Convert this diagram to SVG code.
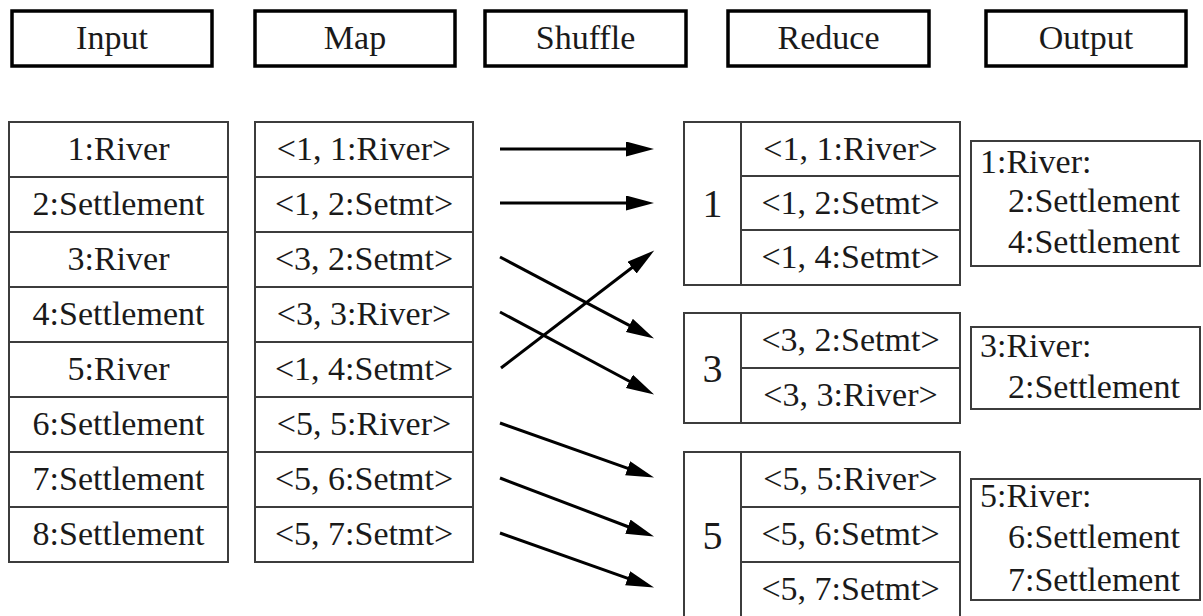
<svg xmlns="http://www.w3.org/2000/svg" width="1203" height="616" viewBox="0 0 1203 616">
  <defs>
    <marker id="head" markerUnits="userSpaceOnUse" markerWidth="30" markerHeight="16" refX="1" refY="7.5" orient="auto">
      <path d="M0,0 L28,7.5 L0,15 z" fill="#000"/>
    </marker>
  </defs>
  <rect width="1203" height="616" fill="#fff"/>

  <!-- stage headers -->
  <g id="headers" fill="#fff" stroke="#000" stroke-width="3.5">
    <rect x="12" y="11" width="200" height="55"/>
    <rect x="255" y="11" width="200" height="55"/>
    <rect x="485" y="11" width="201" height="55"/>
    <rect x="728" y="11" width="201" height="55"/>
    <rect x="986" y="11" width="200" height="55"/>
  </g>
  <g id="hdr-input"><text font-family="Liberation Serif" font-size="34" fill="#1a1a1a" text-anchor="middle" x="112" y="49">Input</text></g>
  <g id="hdr-map"><text font-family="Liberation Serif" font-size="34" fill="#1a1a1a" text-anchor="middle" x="355" y="49">Map</text></g>
  <g id="hdr-shuffle"><text font-family="Liberation Serif" font-size="34" fill="#1a1a1a" text-anchor="middle" x="585.5" y="49">Shuffle</text></g>
  <g id="hdr-reduce"><text font-family="Liberation Serif" font-size="34" fill="#1a1a1a" text-anchor="middle" x="828.5" y="49">Reduce</text></g>
  <g id="hdr-output"><text font-family="Liberation Serif" font-size="34" fill="#1a1a1a" text-anchor="middle" x="1086" y="49">Output</text></g>

  <!-- input records -->
  <g id="input-table">
    <rect fill="#fff" stroke="#3c3c3c" stroke-width="2" x="9" y="122" width="219" height="440"/>
    <path stroke="#3c3c3c" stroke-width="2" d="M9,177H228M9,232H228M9,287H228M9,342H228M9,397H228M9,452H228M9,507H228"/>
    <text font-family="Liberation Serif" font-size="34" fill="#1a1a1a" text-anchor="middle" x="118.5" y="160">1:River</text>
    <text font-family="Liberation Serif" font-size="34" fill="#1a1a1a" text-anchor="middle" x="118.5" y="215">2:Settlement</text>
    <text font-family="Liberation Serif" font-size="34" fill="#1a1a1a" text-anchor="middle" x="118.5" y="270">3:River</text>
    <text font-family="Liberation Serif" font-size="34" fill="#1a1a1a" text-anchor="middle" x="118.5" y="325">4:Settlement</text>
    <text font-family="Liberation Serif" font-size="34" fill="#1a1a1a" text-anchor="middle" x="118.5" y="380">5:River</text>
    <text font-family="Liberation Serif" font-size="34" fill="#1a1a1a" text-anchor="middle" x="118.5" y="435">6:Settlement</text>
    <text font-family="Liberation Serif" font-size="34" fill="#1a1a1a" text-anchor="middle" x="118.5" y="490">7:Settlement</text>
    <text font-family="Liberation Serif" font-size="34" fill="#1a1a1a" text-anchor="middle" x="118.5" y="545">8:Settlement</text>
  </g>

  <!-- map output pairs -->
  <g id="map-table">
    <rect fill="#fff" stroke="#3c3c3c" stroke-width="2" x="255" y="122" width="218" height="440"/>
    <path stroke="#3c3c3c" stroke-width="2" d="M255,177H473M255,232H473M255,287H473M255,342H473M255,397H473M255,452H473M255,507H473"/>
    <text font-family="Liberation Serif" font-size="34" fill="#1a1a1a" text-anchor="middle" x="364" y="160">&lt;1, 1:River&gt;</text>
    <text font-family="Liberation Serif" font-size="34" fill="#1a1a1a" text-anchor="middle" x="364" y="215">&lt;1, 2:Setmt&gt;</text>
    <text font-family="Liberation Serif" font-size="34" fill="#1a1a1a" text-anchor="middle" x="364" y="270">&lt;3, 2:Setmt&gt;</text>
    <text font-family="Liberation Serif" font-size="34" fill="#1a1a1a" text-anchor="middle" x="364" y="325">&lt;3, 3:River&gt;</text>
    <text font-family="Liberation Serif" font-size="34" fill="#1a1a1a" text-anchor="middle" x="364" y="380">&lt;1, 4:Setmt&gt;</text>
    <text font-family="Liberation Serif" font-size="34" fill="#1a1a1a" text-anchor="middle" x="364" y="435">&lt;5, 5:River&gt;</text>
    <text font-family="Liberation Serif" font-size="34" fill="#1a1a1a" text-anchor="middle" x="364" y="490">&lt;5, 6:Setmt&gt;</text>
    <text font-family="Liberation Serif" font-size="34" fill="#1a1a1a" text-anchor="middle" x="364" y="545">&lt;5, 7:Setmt&gt;</text>
  </g>

  <!-- reduce groups -->
  <g id="reduce-1">
    <rect fill="#fff" stroke="#3c3c3c" stroke-width="2" x="684" y="122" width="276" height="163"/>
    <path stroke="#3c3c3c" stroke-width="2" d="M741,122V285M741,176H960M741,230H960"/>
    <text font-family="Liberation Serif" font-size="40" fill="#1a1a1a" text-anchor="middle" x="712.5" y="217">1</text>
    <text font-family="Liberation Serif" font-size="34" fill="#1a1a1a" text-anchor="middle" x="850.5" y="160">&lt;1, 1:River&gt;</text>
    <text font-family="Liberation Serif" font-size="34" fill="#1a1a1a" text-anchor="middle" x="850.5" y="214">&lt;1, 2:Setmt&gt;</text>
    <text font-family="Liberation Serif" font-size="34" fill="#1a1a1a" text-anchor="middle" x="850.5" y="268">&lt;1, 4:Setmt&gt;</text>
  </g>
  <g id="reduce-3">
    <rect fill="#fff" stroke="#3c3c3c" stroke-width="2" x="684" y="313" width="276" height="110"/>
    <path stroke="#3c3c3c" stroke-width="2" d="M741,313V423M741,368H960"/>
    <text font-family="Liberation Serif" font-size="40" fill="#1a1a1a" text-anchor="middle" x="712.5" y="382">3</text>
    <text font-family="Liberation Serif" font-size="34" fill="#1a1a1a" text-anchor="middle" x="850.5" y="351">&lt;3, 2:Setmt&gt;</text>
    <text font-family="Liberation Serif" font-size="34" fill="#1a1a1a" text-anchor="middle" x="850.5" y="406">&lt;3, 3:River&gt;</text>
  </g>
  <g id="reduce-5">
    <rect fill="#fff" stroke="#3c3c3c" stroke-width="2" x="684" y="452" width="276" height="166"/>
    <path stroke="#3c3c3c" stroke-width="2" d="M741,452V618M741,507H960M741,562H960"/>
    <text font-family="Liberation Serif" font-size="40" fill="#1a1a1a" text-anchor="middle" x="712.5" y="549">5</text>
    <text font-family="Liberation Serif" font-size="34" fill="#1a1a1a" text-anchor="middle" x="850.5" y="490">&lt;5, 5:River&gt;</text>
    <text font-family="Liberation Serif" font-size="34" fill="#1a1a1a" text-anchor="middle" x="850.5" y="545">&lt;5, 6:Setmt&gt;</text>
    <text font-family="Liberation Serif" font-size="34" fill="#1a1a1a" text-anchor="middle" x="850.5" y="600">&lt;5, 7:Setmt&gt;</text>
  </g>

  <!-- final outputs -->
  <g id="output-1">
    <rect fill="#fff" stroke="#3c3c3c" stroke-width="2" x="971" y="141" width="229" height="125"/>
    <text font-family="Liberation Serif" font-size="34" fill="#1a1a1a" x="980" y="173">1:River:</text>
    <text font-family="Liberation Serif" font-size="34" fill="#1a1a1a" x="1008" y="212">2:Settlement</text>
    <text font-family="Liberation Serif" font-size="34" fill="#1a1a1a" x="1008" y="253">4:Settlement</text>
  </g>
  <g id="output-3">
    <rect fill="#fff" stroke="#3c3c3c" stroke-width="2" x="971" y="327" width="229" height="82"/>
    <text font-family="Liberation Serif" font-size="34" fill="#1a1a1a" x="980" y="357">3:River:</text>
    <text font-family="Liberation Serif" font-size="34" fill="#1a1a1a" x="1008" y="398">2:Settlement</text>
  </g>
  <g id="output-5">
    <rect fill="#fff" stroke="#3c3c3c" stroke-width="2" x="971" y="479" width="229" height="121"/>
    <text font-family="Liberation Serif" font-size="34" fill="#1a1a1a" x="980" y="507">5:River:</text>
    <text font-family="Liberation Serif" font-size="34" fill="#1a1a1a" x="1008" y="548">6:Settlement</text>
    <text font-family="Liberation Serif" font-size="34" fill="#1a1a1a" x="1008" y="591">7:Settlement</text>
  </g>

  <!-- shuffle connectors -->
  <g id="connectors" stroke="#000" stroke-width="3" fill="none" marker-end="url(#head)">
    <path d="M500,149L627,149"/>
    <path d="M500,203L627,203"/>
    <path d="M500,257L630.2,325.9"/>
    <path d="M500,312L630.3,381.8"/>
    <path d="M501,368L632.8,267"/>
    <path d="M500,423L628.6,468.6"/>
    <path d="M500,478L628.8,527"/>
    <path d="M500,533L628.6,578.6"/>
  </g>
</svg>
